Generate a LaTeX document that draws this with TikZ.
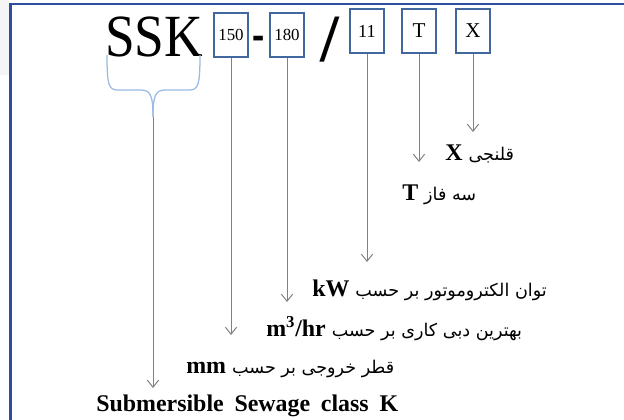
\documentclass[tikz,border=0pt]{standalone}
\usepackage{fontspec}
\setmainfont{Liberation Serif}
\newfontfamily\persianfont[Script=Arabic]{DejaVu Sans}
\TeXXeTstate=1
\usetikzlibrary{arrows.meta}
\definecolor{framecol}{HTML}{2E4D9C}
\definecolor{boxcol}{HTML}{41679E}
\definecolor{bracecol}{HTML}{9ABBE3}
\definecolor{linecol}{HTML}{808080}
\newcommand{\fatext}[1]{{\persianfont\mdseries\fontsize{12.5}{12.5}\selectfont\beginR #1\endR}}

\begin{document}
\begin{tikzpicture}[x=0.025cm,y=-0.025cm,
    code/.style={draw=boxcol,line width=1.4pt,fill=white,minimum width=0.85cm,minimum height=1.12cm,inner sep=0pt},
    conn/.style={draw=linecol,line width=0.7pt,-{Straight Barb[length=5pt,width=8pt]}},
    lab/.style={anchor=base west,inner sep=0pt,font=\fontsize{17}{17}\selectfont\bfseries}]
    \useasboundingbox (0,0) rectangle (624,420);
    \fill[gray!8] (0,0) rectangle (9,75);
    \draw[framecol,line width=2pt] (10.5,420) -- (10.5,4) -- (624,4);

    % model code
    \node[anchor=base west,inner sep=0pt,font=\fontsize{38}{38}\selectfont] (ssk) at (105,57) {\scalebox{1}[1.12]{SSK}};
    \foreach \n/\x/\y/\s in {150/231/35/12, 180/287/35/12, 11/367/31/13, T/419/31/15, X/473/31/15} {
      \node[code,font=\fontsize{\s}{\s}\selectfont] (b\n) at (\x,\y) {\n};
    }
    \node[anchor=base,inner sep=0pt,font=\fontsize{26}{26}\selectfont\bfseries] (dash) at (259,52) {\scalebox{1}[1.5]{-}};
    \node[inner sep=0pt,font=\fontsize{48}{48}\selectfont\bfseries] (slash) at (330,40) {/};

    % brace under SSK
    \coordinate (brtip) at (153,117);
    \draw[bracecol,line width=0.9pt] (107,55) .. controls (107,86) and (109,90) .. (118,90) -- (140,90)
      .. controls (150,90) and (153,94) .. (brtip);
    \draw[bracecol,line width=0.9pt] (200,55) .. controls (200,86) and (198,90) .. (189,90) -- (166,90)
      .. controls (156,90) and (153,94) .. (brtip);

    % arrows
    \foreach \n/\x/\y in {150/231/335, 180/287/302, 11/367/262, T/419/162, X/473/132} {
      \coordinate (t\n) at (\x,\y);
      \draw[conn] (b\n) -- (t\n);
    }
    \coordinate (tsub) at (153,388);
    \draw[conn] (brtip) -- (tsub);

    % labels
    \node[lab] (labX) at (445,160) {X \fatext{قلنجی}};
    \node[lab] (labT) at (402,200) {T \fatext{سه فاز}};
    \node[lab] (labkW) at (312,296) {kW \fatext{توان الکتروموتور بر حسب}};
    \node[lab] (labflow) at (266,336) {m\textsuperscript{3}/hr \fatext{بهترین دبی کاری بر حسب}};
    \node[lab] (labmm) at (186,373) {mm \fatext{قطر خروجی بر حسب}};
    \node[lab] (labsub) at (96,411) {Submersible\hspace{0.45em}Sewage\hspace{0.45em}class\hspace{0.45em}K};
  \end{tikzpicture}
\end{document}
